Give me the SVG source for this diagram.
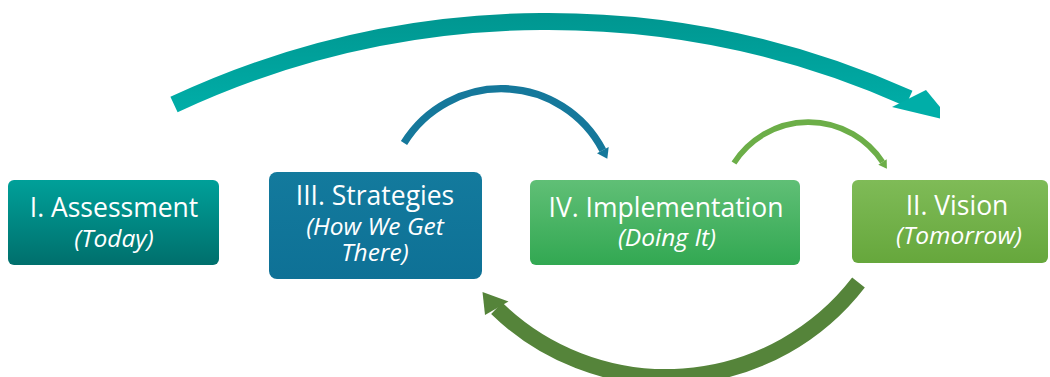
<svg xmlns="http://www.w3.org/2000/svg" width="1050" height="377" viewBox="0 0 1050 377">
<defs>
  <linearGradient id="gA" x1="0" y1="0" x2="0" y2="1"><stop offset="0" stop-color="#00a099"/><stop offset="1" stop-color="#006f6c"/></linearGradient>
  <linearGradient id="gS" x1="0" y1="0" x2="0" y2="1"><stop offset="0" stop-color="#137a9d"/><stop offset="1" stop-color="#0e7196"/></linearGradient>
  <linearGradient id="gI" x1="0" y1="0" x2="0" y2="1"><stop offset="0" stop-color="#60bf76"/><stop offset="1" stop-color="#32a852"/></linearGradient>
  <linearGradient id="gV" x1="0" y1="0" x2="0" y2="1"><stop offset="0" stop-color="#7fbb57"/><stop offset="1" stop-color="#66a73c"/></linearGradient>
  <linearGradient id="gT" gradientUnits="userSpaceOnUse" x1="0" y1="13" x2="0" y2="120"><stop offset="0" stop-color="#009690"/><stop offset="1" stop-color="#00b0aa"/></linearGradient>
</defs>
<style>
  .title{font-family:"Open Sans",sans-serif;font-size:26.5px;fill:#fff;text-anchor:middle}
  .sub{font-family:"Open Sans",sans-serif;font-size:24.5px;font-style:italic;fill:#fff;text-anchor:middle}
  .arc{fill:none;stroke-linecap:butt}
</style>
<g id="connectors">
  <path class="arc" d="M174 104.5 A884 884 0 0 1 909 98.5" stroke="url(#gT)" stroke-width="17"/>
  <polygon points="892,107 926,90 940,107 940,118.4" fill="#00aea8"/>
  <path class="arc" d="M404 143 A114.4 114.4 0 0 1 602.8 150.2" stroke="#15789b" stroke-width="7.3"/>
  <polygon points="597,153.3 608.7,147.1 607.3,158.7" fill="#15789b"/>
  <path class="arc" d="M734 163 A88.5 88.5 0 0 1 882.5 162" stroke="#6cae48" stroke-width="5.7"/>
  <polygon points="878.3,164.7 886.7,159.3 886.9,168.7" fill="#6cae48"/>
  <path class="arc" d="M858.5 282.5 A243 243 0 0 1 496.7 308.3" stroke="#55843a" stroke-width="16"/>
  <polygon points="482.5,292 485,315 508.5,301.5" fill="#55843a"/>
</g>
<g id="assessment">
  <rect x="8" y="180" width="211" height="85" rx="6" fill="url(#gA)"/>
  <text class="title" x="114" y="217">I. Assessment</text>
  <text class="sub" x="114" y="247">(Today)</text>
</g>
<g id="strategies">
  <rect x="269" y="172" width="213" height="107" rx="8" fill="url(#gS)"/>
  <text class="title" x="375" y="205">III. Strategies</text>
  <text class="sub" x="375" y="235">(How We Get</text>
  <text class="sub" x="375" y="261">There)</text>
</g>
<g id="implementation">
  <rect x="530" y="180" width="270" height="85" rx="6" fill="url(#gI)"/>
  <text class="title" x="666" y="217">IV. Implementation</text>
  <text class="sub" x="667" y="246">(Doing It)</text>
</g>
<g id="vision">
  <rect x="852" y="180" width="196" height="83" rx="6" fill="url(#gV)"/>
  <text class="title" x="957" y="215">II. Vision</text>
  <text class="sub" x="959" y="244">(Tomorrow)</text>
</g>
</svg>
